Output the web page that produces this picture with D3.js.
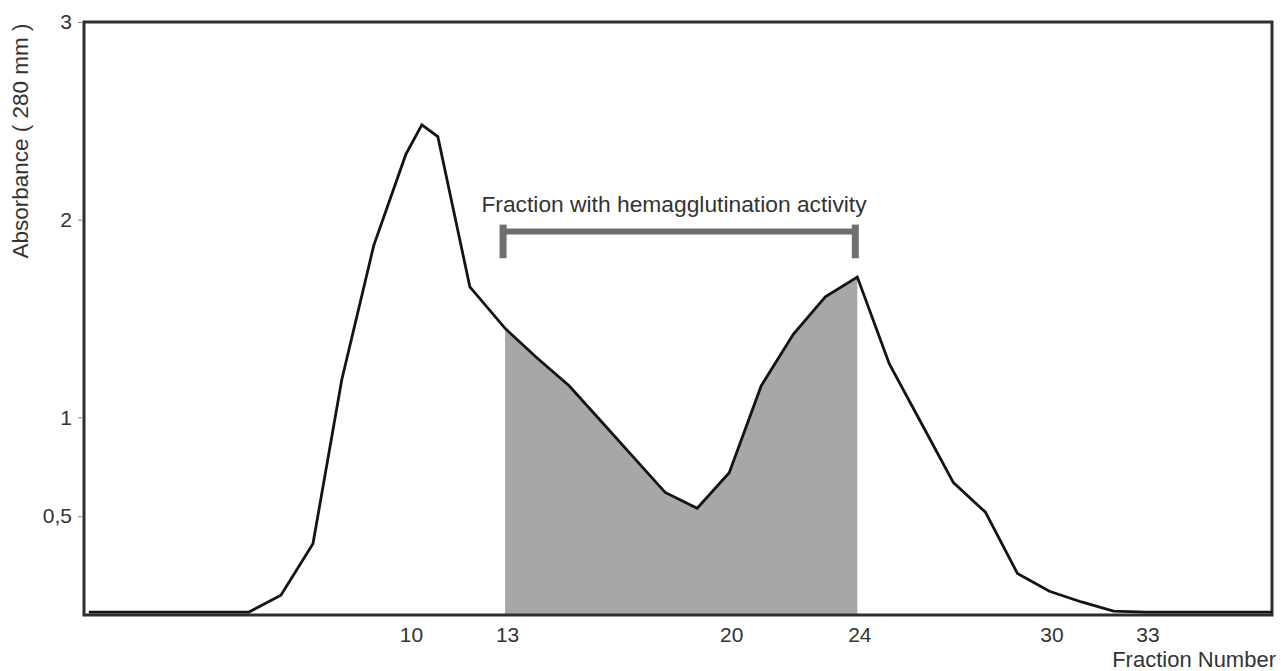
<!DOCTYPE html>
<html>
<head>
<meta charset="utf-8">
<script src="https://cdn.jsdelivr.net/npm/d3@7/dist/d3.min.js"></script>
<style>
  html, body { margin: 0; padding: 0; background: #fff; }
  svg { display: block; font-family: "Liberation Sans", Arial, sans-serif; }
  .tick text { fill: #333; }
</style>
</head>
<body>
<svg id="chart" width="1285" height="671"></svg>
<script>
  // fraction numbers (x) and absorbance values (y)
  const fractions = [0, 5, 6, 7, 7.9, 8.9, 9.9, 10.4, 10.9, 11.9, 13, 14, 15, 16, 17, 18, 19, 20,
    21, 22, 23, 24, 25, 26, 27, 28, 29, 30, 31, 32, 33, 34, 35, 36, 37];
  const absorbance = [0.015, 0.015, 0.1, 0.36, 1.19, 1.87, 2.33, 2.48, 2.42, 1.66, 1.45, 1.3, 1.16, 0.98, 0.8, 0.62, 0.54, 0.72,
    1.16, 1.42, 1.61, 1.71, 1.27, 0.97, 0.67, 0.52, 0.21, 0.12, 0.066, 0.02, 0.015, 0.015, 0.015, 0.015, 0.015];

  const xTicks = [10, 13, 20, 24, 30, 33];
  const yTicks = [0.5, 1, 2, 3];
  const activeRange = [13, 24];
  const annotation = 'Fraction with hemagglutination activity';
  const xTitle = 'Fraction Number';
  const yTitle = 'Absorbance ( 280 mm )';

  const svg = d3.select('#chart');
  const plotLeft = 84, plotRight = 1272, plotTop = 22, plotBottom = 615;

  const x = d3.scaleLinear().domain([-0.15, 36.95]).range([plotLeft, plotRight]);
  const y = d3.scaleLinear().domain([0, 3]).range([plotBottom, plotTop]);

  const data = fractions.map(function (f, i) { return {f: f, v: absorbance[i]}; });

  svg.append('clipPath').attr('id', 'plot-clip')
    .append('rect')
    .attr('x', plotLeft).attr('y', plotTop)
    .attr('width', plotRight - plotLeft).attr('height', plotBottom - plotTop);

  // shaded fractions
  const area = d3.area()
    .x(function (d) { return x(d.f); })
    .y0(y(0))
    .y1(function (d) { return y(d.v); });

  svg.append('path')
    .datum(data.filter(function (d) { return d.f >= activeRange[0] && d.f <= activeRange[1]; }))
    .attr('d', area)
    .attr('fill', '#a7a7a7');

  // axis box
  svg.append('rect')
    .attr('x', plotLeft).attr('y', plotTop)
    .attr('width', plotRight - plotLeft).attr('height', plotBottom - plotTop)
    .attr('fill', 'none')
    .attr('stroke', '#2e2e2e')
    .attr('stroke-width', 3);

  // curve
  const line = d3.line()
    .x(function (d) { return x(d.f); })
    .y(function (d) { return y(d.v); });

  svg.append('path')
    .datum(data)
    .attr('clip-path', 'url(#plot-clip)')
    .attr('d', line)
    .attr('fill', 'none')
    .attr('stroke', '#141414')
    .attr('stroke-width', 2.8)
    .attr('stroke-linejoin', 'miter');

  // axes
  const axisY = d3.axisLeft(y)
    .tickValues(yTicks)
    .tickSize(5)
    .tickPadding(6)
    .tickFormat(function (d) { return String(d).replace('.', ','); });

  const gy = svg.append('g')
    .attr('transform', 'translate(' + (plotLeft - 1) + ',0)')
    .call(axisY);
  gy.select('.domain').remove();
  gy.selectAll('.tick line').attr('stroke', '#888');
  gy.selectAll('.tick text').style('font-size', '21px');

  const axisX = d3.axisBottom(x)
    .tickValues(xTicks)
    .tickSize(0)
    .tickPadding(12);

  const gx = svg.append('g')
    .attr('transform', 'translate(2,' + plotBottom + ')')
    .call(axisX);
  gx.select('.domain').remove();
  gx.selectAll('.tick text').style('font-size', '21px');

  // axis titles
  svg.append('text')
    .attr('x', 1276).attr('y', 667)
    .attr('text-anchor', 'end')
    .attr('fill', '#333')
    .style('font-size', '22px')
    .text(xTitle);

  svg.append('text')
    .attr('transform', 'translate(28,' + 141 + ') rotate(-90)')
    .attr('text-anchor', 'middle')
    .attr('fill', '#333')
    .style('font-size', '22.5px')
    .text(yTitle);

  // bracket for active fractions
  const bracket = svg.append('g')
    .attr('stroke', '#6f6f6f')
    .attr('fill', 'none');
  bracket.append('line')
    .attr('x1', x(activeRange[0]) - 2).attr('x2', x(activeRange[1]) - 2)
    .attr('y1', y(1.94)).attr('y2', y(1.94))
    .attr('stroke-width', 6);
  bracket.selectAll('.cap')
    .data(activeRange)
    .enter()
    .append('line')
    .attr('class', 'cap')
    .attr('x1', function (d) { return x(d) - 2; })
    .attr('x2', function (d) { return x(d) - 2; })
    .attr('y1', y(1.975))
    .attr('y2', y(1.805))
    .attr('stroke-width', 7);

  svg.append('text')
    .attr('x', 674).attr('y', 212)
    .attr('text-anchor', 'middle')
    .attr('fill', '#333')
    .style('font-size', '22.8px')
    .text(annotation);
</script>
</body>
</html>
